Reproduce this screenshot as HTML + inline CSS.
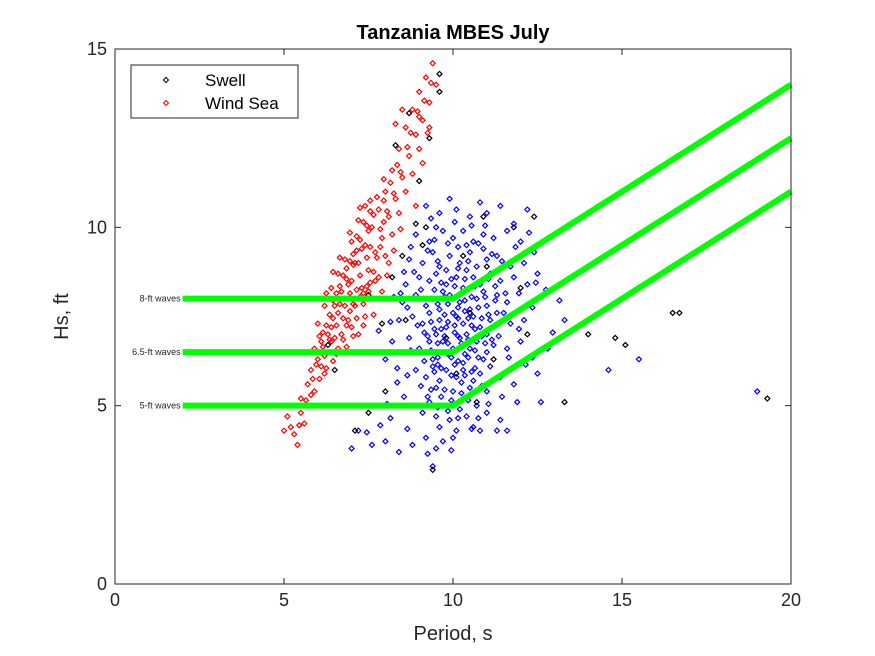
<!DOCTYPE html>
<html><head><meta charset="utf-8"><style>
html,body{margin:0;padding:0;background:#fff;}
svg{display:block;font-family:"Liberation Sans","DejaVu Sans",sans-serif;}
</style></head><body>
<svg id="chart" width="875" height="656" viewBox="0 0 875 656"></svg>
<script>
const xTicks=[0,5,10,15,20];
const yTicks=[0,5,10,15];
const swellBlue=[[9.2,10.6],[9.6,10.4],[10.1,10.5],[10.5,10.3],[11.0,10.4],[11.4,10.6],[12.2,10.5],[9.9,10.8],[10.8,10.7],
[8.9,9.8],[9.3,9.6],[9.7,9.9],[10.0,9.7],[10.3,9.9],[10.6,9.6],[10.9,9.8],[11.2,9.7],[11.6,9.9],[12.0,9.6],[9.5,10.0],[10.4,9.5],[11.8,10.1],
[8.7,9.1],[9.1,9.0],[9.4,9.3],[9.6,8.9],[9.9,9.2],[10.2,9.0],[10.5,9.3],[10.7,8.9],[11.0,9.1],[11.3,9.2],[11.7,8.9],[12.1,9.0],[12.4,9.3],[9.8,8.8],[10.9,9.4],
[8.6,8.4],[9.0,8.6],[9.3,8.5],[9.5,8.7],[9.8,8.4],[10.1,8.6],[10.3,8.3],[10.6,8.6],[10.8,8.4],[11.1,8.7],[11.4,8.5],[11.8,8.6],[12.2,8.4],[12.5,8.7],[9.7,8.2],[10.4,8.8],
[8.5,7.9],[8.9,8.1],[9.2,7.8],[9.4,8.0],[9.6,7.7],[9.9,8.1],[10.2,7.9],[10.5,7.7],[10.7,8.0],[11.0,7.8],[11.3,8.1],[11.6,7.9],[12.0,7.7],[12.5,8.0],[10.0,7.6],[10.9,8.2],[11.5,7.6],
[8.4,7.4],[8.8,7.5],[9.1,7.3],[9.3,7.6],[9.6,7.4],[9.8,7.2],[10.1,7.5],[10.3,7.3],[10.6,7.5],[10.8,7.2],[11.1,7.4],[11.3,7.6],[11.7,7.3],[12.1,7.4],[13.3,7.4],[9.5,7.0],[10.4,7.0],[11.0,7.0],
[8.2,6.8],[8.7,6.9],[9.0,6.6],[9.3,6.8],[9.5,6.5],[9.7,6.8],[10.0,6.6],[10.2,6.9],[10.5,6.6],[10.7,6.8],[11.0,6.5],[11.2,6.7],[11.6,6.6],[12.0,6.8],[12.8,6.6],[9.4,6.3],[10.3,6.2],[10.9,6.3],[7.8,7.1],[8.0,6.3],
[8.9,6.0],[9.2,5.8],[9.4,6.1],[9.6,5.7],[9.8,6.0],[10.1,5.8],[10.3,6.0],[10.6,5.7],[10.8,5.9],[11.1,6.1],[11.4,5.8],[9.5,5.5],[10.0,5.4],[10.5,5.5],[11.0,5.4],[11.8,5.6],[12.5,5.9],[14.6,6.0],
[8.8,5.0],[9.1,4.8],[9.3,5.1],[9.5,4.7],[9.7,5.0],[9.9,4.6],[10.2,4.9],[10.4,4.7],[10.7,5.0],[11.0,4.8],[11.4,4.6],[11.9,5.1],[9.6,4.4],[10.1,4.3],[10.6,4.4],[12.6,5.1],[15.5,6.3],
[7.2,4.3],[7.6,3.9],[8.0,4.0],[8.4,3.7],[8.8,3.9],[9.2,4.1],[9.5,3.8],[9.7,4.0],[9.4,3.3],[10.0,4.1],[10.8,4.3],[11.3,4.3],[11.6,4.3],[7.0,3.8],[19.0,5.4],
[9.45,7.15],[9.75,7.55],[10.05,7.05],[10.35,7.65],[10.65,7.15],[9.55,6.15],[9.85,6.45],[10.15,6.25],[10.45,6.85],[10.75,6.35],[9.65,8.45],[9.95,8.55],[10.25,8.15],[10.55,8.05],[9.35,5.45],[9.65,5.25],[9.95,5.15],[10.25,5.35],[10.15,9.45],[9.45,9.65],
[9.35,7.35],[9.55,7.85],[9.85,7.85],[10.15,7.75],[10.45,7.45],[10.75,7.75],[11.05,7.55],[11.25,7.25],[9.25,6.95],[9.55,6.75],[9.85,6.75],[10.15,6.95],[10.45,6.35],[10.65,6.05],[10.95,6.75],[11.35,6.95],
[9.35,6.55],[9.65,6.05],[9.95,5.85],[10.25,5.65],[10.55,5.95],[10.85,5.55],[9.45,5.95],[9.75,5.45],[10.05,6.15],[10.35,6.45],[9.25,5.25],[9.55,4.95],[9.85,4.85],[10.15,4.65],[10.45,5.15],[10.75,4.65],
[9.45,8.25],[9.75,8.05],[10.05,8.35],[10.35,8.55],[10.65,8.35],[10.95,8.05],[11.25,8.35],[9.55,9.05],[9.85,9.55],[10.15,8.85],[10.45,9.05],[10.75,9.55],[11.05,8.55],[11.45,9.05],[11.55,8.15],[11.95,8.15],
[9.15,7.05],[8.95,7.25],[8.75,6.55],[8.65,5.85],[8.55,5.25],[9.05,5.55],[9.15,6.25],[9.05,8.25],[8.85,8.75],[9.25,9.35],[9.35,10.25],[10.05,10.15],[10.55,10.05],[10.95,10.05],[11.15,9.25],[11.85,9.45],
[12.25,9.85],[11.95,7.15],[12.35,7.75],[11.65,6.35],[12.15,6.15],[11.45,5.25],[11.05,5.05],[10.55,4.35],[9.95,3.75],[9.25,3.65],[8.65,4.35],[8.15,4.65],[8.35,5.65],[8.05,5.05],[7.85,4.45],[7.45,4.25],
[10.05,7.25],[9.75,6.95],[10.25,6.75],[10.55,7.25],[9.65,7.15],[10.35,7.95],[10.85,6.95],[11.15,6.85],[9.85,7.35],[10.15,7.45],[10.65,6.55],[9.55,6.35],[10.85,7.45],[11.25,7.95],[9.95,6.35],[10.35,5.85],
[8.35,6.05],[8.15,7.35],[8.45,8.15],[8.65,7.75],[8.25,8.05],[8.75,9.45],[8.55,8.75],[12.75,8.25],[12.45,8.45],[13.15,7.95],[12.95,7.05],[12.35,6.35]];
const windRed=[[5.0,4.3],[5.1,4.7],[5.3,4.2],[5.4,3.9],[5.5,5.2],[5.6,4.5],[5.7,5.6],[5.8,6.0],[5.9,5.4],[6.0,6.3],[6.1,6.8],[6.2,5.9],[6.3,6.5],[6.4,7.2],[6.5,6.9],[6.6,7.6],[6.7,7.0],[6.8,8.0],[6.9,7.4],[7.0,8.5],[7.1,7.8],[7.2,9.0],[7.3,8.3],[7.4,9.5],[7.5,8.8],[7.6,10.0],[7.7,9.3],[7.8,10.5],[7.9,9.7],[8.0,11.0],[8.1,10.3],[8.2,11.6],[8.3,10.8],[8.4,12.2],[8.5,11.4],[8.6,12.8],[8.7,12.0],[8.8,13.3],[8.9,12.6],[9.0,13.8],[9.1,13.0],[9.2,14.2],[9.3,13.5],[9.4,14.6],[9.5,14.0],
[6.0,7.3],[6.2,7.8],[6.4,8.3],[6.6,8.7],[6.8,9.1],[7.0,9.6],[7.2,10.2],[7.4,10.6],[6.5,7.8],[6.9,8.4],[7.1,9.0],[7.3,9.4],[7.5,9.9],[7.0,7.2],[7.2,7.0],[7.4,7.5],[7.6,8.0],[7.8,8.6],[6.3,7.0],[6.7,8.2],[5.9,6.6],[6.1,6.1],[6.6,6.6],[7.5,8.2],[7.7,8.5],[8.0,9.2],[8.2,9.8],[8.4,10.4],[8.6,11.0],[8.8,11.5],[9.0,12.2],[9.3,12.8],[8.3,12.9],[8.5,13.3],[9.0,13.1],[8.1,9.0],[7.9,8.2],[6.8,7.8],[6.4,6.8],[6.2,6.4],[5.8,5.3],[5.5,4.8],[5.2,4.4],[9.1,11.8],[8.9,10.6],
[6.85,8.55],[7.05,8.95],[7.25,8.65],[7.45,9.15],[7.15,9.35],[6.95,8.15],[7.35,7.85],[7.55,9.45],[7.65,10.35],[7.85,9.95],[6.75,7.45],[6.55,7.25],[7.15,8.25],[6.35,7.55],[7.95,10.75],[8.15,11.25],[8.35,11.75],
[6.45,7.95],[6.65,8.35],[6.85,8.85],[7.05,9.25],[7.25,9.65],[7.45,10.05],[6.55,8.15],[6.75,8.65],[6.95,9.05],[7.15,9.75],[7.35,10.15],[7.55,10.45],[6.95,7.65],[7.15,7.45],[7.35,8.15],[7.55,8.45],
[6.25,7.25],[6.45,7.45],[6.65,7.85],[6.85,7.25],[7.05,7.85],[7.25,8.05],[7.45,8.35],[7.65,8.75],[7.75,9.15],[7.85,9.45],[7.95,10.15],[8.05,10.45],[6.15,6.65],[6.35,6.85],[6.55,6.45],[6.75,6.85],
[6.05,5.75],[6.25,6.05],[5.85,5.75],[5.65,5.15],[5.45,4.45],[5.95,6.15],[6.15,7.05],[6.45,6.25],[6.85,6.65],[7.05,6.95],[7.35,7.25],[7.65,7.55],[8.25,10.95],[8.45,11.55],[8.65,12.25],[8.75,12.65],
[8.95,13.25],[9.15,13.55],[9.25,12.65],[9.35,14.05],[8.05,8.65],[8.25,9.35],[8.45,9.95],[7.95,11.35],[7.75,10.85],[7.55,10.75],[6.95,9.85],[7.25,10.55],[6.65,9.15],[6.45,8.75],[6.25,8.15],[6.05,6.95]];
const swellBlack=[[6.3,6.7],[7.5,8.1],[8.2,8.6],[8.5,9.2],[8.9,10.1],[9.0,11.3],[9.3,12.5],[9.6,14.3],[9.2,10.0],[10.3,9.2],[11.0,8.9],[11.8,10.0],[12.4,10.3],[12.0,8.3],[10.5,7.6],[9.8,6.9],[10.7,5.1],[11.2,6.3],[8.6,7.4],[8.0,5.4],[7.5,4.8],[7.1,4.3],[6.5,6.0],[5.7,5.0],[9.4,3.2],[10.1,5.9],[12.2,7.0],[13.3,5.1],[14.0,7.0],[15.1,6.7],[16.5,7.6],[16.7,7.6],[19.3,5.2],[14.8,6.9],[8.3,12.3],[8.7,13.2],[9.6,13.8],[9.1,9.5],[7.9,7.3],[10.9,10.3]];
const waveLabels=["8-ft waves","6.5-ft waves","5-ft waves"];
const waveLineX=[2,10,20];
const waveLineY=[[8,8,14],[6.5,6.5,12.5],[5,5,11]];

const NS="http://www.w3.org/2000/svg";
const svg=document.getElementById('chart');
const L=115,R=791,T=49,B=584;
const sx=v=>L+(v-0)/20*(R-L);
const sy=v=>B-(v-0)/15*(B-T);
function mk(tag,attrs,parent){const e=document.createElementNS(NS,tag);for(const k in attrs)e.setAttribute(k,attrs[k]);(parent||svg).appendChild(e);return e;}

const bg=mk('rect',{x:L,y:T,width:R-L,height:B-T,fill:'#fff'});



function drawPts(pts,color,name){
  const g=mk('g',{fill:'none',stroke:color,'stroke-width':1.2});
  
  
  pts.forEach(p=>{const x=sx(p[0]),y=sy(p[1]);
    const d=mk('path',{d:`M${x} ${y-2.5}L${x+2.5} ${y}L${x} ${y+2.5}L${x-2.5} ${y}Z`},g);
    
    
  });
}
drawPts(swellBlue,'#0000ff','swell-series-blue');
drawPts(windRed,'#ff0000','wind-sea-series');
drawPts(swellBlack,'#000000','swell-series');

waveLineY.forEach((ys,i)=>{
  const pts=waveLineX.map((x,j)=>sx(x)+','+sy(ys[j])).join(' ');
  const pl=mk('polyline',{points:pts,fill:'none',stroke:'#00ff00','stroke-width':6});
  
  
  const t=mk('text',{x:sx(waveLineX[0])-2,y:sy(ys[0])+3,'text-anchor':'end','font-size':9,fill:'#262626'});
  t.textContent=waveLabels[i];
  
  
});

const box=mk('rect',{x:L,y:T,width:R-L,height:B-T,fill:'none',stroke:'#262626','stroke-width':1});



xTicks.forEach(v=>{
  const x=sx(v);
  mk('line',{x1:x,y1:B,x2:x,y2:B-6,stroke:'#262626'});
  mk('line',{x1:x,y1:T,x2:x,y2:T+6,stroke:'#262626'});
  const t=mk('text',{x:x,y:B+22,'text-anchor':'middle','font-size':18,fill:'#262626'});
  t.textContent=v;
  
  
});
yTicks.forEach(v=>{
  const y=sy(v);
  mk('line',{x1:L,y1:y,x2:L+6,y2:y,stroke:'#262626'});
  mk('line',{x1:R,y1:y,x2:R-6,y2:y,stroke:'#262626'});
  const t=mk('text',{x:L-8,y:y+6,'text-anchor':'end','font-size':18,fill:'#262626'});
  t.textContent=v;
  
  
});

const title=mk('text',{x:(L+R)/2,y:39,'text-anchor':'middle','font-size':20,'font-weight':'bold',fill:'#000'});
title.textContent='Tanzania MBES July';


const xt=mk('text',{x:(L+R)/2,y:640,'text-anchor':'middle','font-size':20,fill:'#262626'});
xt.textContent='Period, s';


const yt=mk('text',{x:0,y:0,'text-anchor':'middle','font-size':20,fill:'#262626',transform:`translate(68,${(T+B)/2}) rotate(-90)`});
yt.textContent='Hs, ft';



const lg=mk('g',{});


mk('rect',{x:131,y:65,width:167,height:53,fill:'#fff',stroke:'#262626'},lg);
[['Swell','#000',80],['Wind Sea','#f00',103]].forEach(e=>{
  const y=e[2];
  const m=mk('path',{d:`M166 ${y-2.5}L168.5 ${y}L166 ${y+2.5}L163.5 ${y}Z`,fill:'none',stroke:e[1]},lg);
  
  
  const t=mk('text',{x:205,y:y+6,'font-size':17,fill:'#000'},lg);
  t.textContent=e[0];
  
  
});
</script>
</body></html>
